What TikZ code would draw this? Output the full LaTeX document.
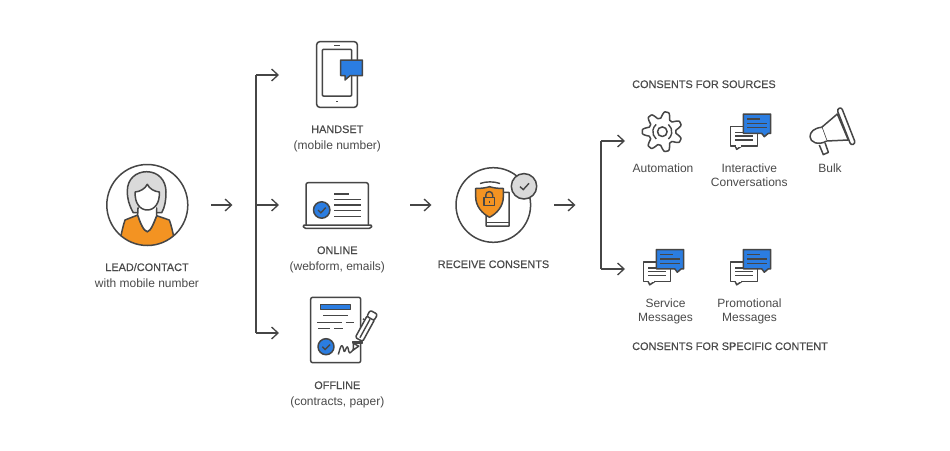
\documentclass[tikz,border=0pt]{standalone}
\usepackage{fontspec}
\setmainfont{Liberation Sans}
\newfontfamily\medfont[FakeBold=0.35]{Liberation Sans}
\usetikzlibrary{arrows.meta}
\definecolor{ink}{HTML}{464646}
\definecolor{txt}{HTML}{4A4A4A}
\definecolor{bluef}{HTML}{2B7DE1}
\definecolor{orangef}{HTML}{F39322}
\definecolor{greyf}{HTML}{DADADA}
\tikzset{
  icon/.style={draw=ink,line width=1.5pt,line join=round},
  thinl/.style={draw=ink,line width=1.4pt},
  conn/.style={draw=ink,line width=1.3pt},
  arr/.style={conn,-{Straight Barb[length=6.5pt,width=12pt,line width=1.3pt]}},
  ttl/.style={anchor=base,inner sep=0pt,text=txt,font=\medfont\fontsize{10.9}{14}\selectfont},
  sub/.style={anchor=base,inner sep=0pt,text=txt,font=\fontsize{12}{14}\selectfont},
  chat/.pic={
    \draw[icon,fill=white] (0,12.7) rectangle (27,32) ;
    \draw[icon,fill=white,line join=round] (4.5,32) -- (6,35.3) -- (11,32);
    \draw[draw=white,line width=1.6pt] (5.4,32) -- (10,32);
    \draw[thinl] (4.3,18.3) -- (12,18.3) (4.3,22) -- (22.6,22) (4.3,26) -- (22.6,26);
    \draw[icon,fill=bluef] (12.7,0) -- (40,0) -- (40,19.3) -- (37.6,19.3) -- (33.6,22.7) -- (31,19.3) -- (12.7,19.3) -- cycle;
    \draw[thinl] (16.6,5) -- (29.3,5) (16.6,9.3) -- (36,9.3) (16.6,13.7) -- (36,13.7);
  }
}
\begin{document}
\begin{tikzpicture}[x=1pt,y=-1pt]
\useasboundingbox (0,0) rectangle (950,450);
\fill[white] (0,0) rectangle (950,450);

% ---------- person
\begin{scope}
\clip (147.3,205) circle (40.5);
\draw[icon,fill=orangef] (137.7,215) -- (125,220) .. controls (123,226) and (122,231) .. (120.5,238) -- (120.5,252) -- (174,252) -- (174,238) .. controls (172.5,231) and (171.5,226) .. (169.3,220) -- (156.7,215.7)
  .. controls (154,222) and (151,231) .. (147.3,231.7) .. controls (143.5,231) and (140,222) .. (137.7,215) -- cycle;
\end{scope}
\draw[icon,fill=greyf] (133.3,212.7) .. controls (129,205) and (127.3,199) .. (127.3,191) .. controls (127.3,179) and (136,171.7) .. (146.7,171.7) .. controls (158,171.7) and (166,180) .. (166,192) .. controls (166,200) and (165,207) .. (161.7,212.7) -- (155,212.7) -- (140,212.7) -- cycle;
\draw[icon,fill=white] (137.9,208) -- (137.7,215) .. controls (140,222) and (143.5,231) .. (147.3,231.7) .. controls (151,231) and (154,222) .. (156.7,215.7) -- (156.5,208) -- cycle;
\draw[draw=white,line width=2pt] (139,208) -- (155.5,208);
\draw[icon,fill=white] (147.3,184.3) .. controls (145,189) and (140,191.5) .. (135.2,192) .. controls (134.5,203) and (140,210) .. (147.3,210) .. controls (154.5,210) and (160,203) .. (159.3,192) .. controls (154.5,191.5) and (149.5,189) .. (147.3,184.3) -- cycle;
\node[circle,draw=ink,line width=1.5pt,minimum size=81pt,inner sep=0pt] (person) at (147.3,205) {};
\node[ttl] (personT) at (147,271) {LEAD/CONTACT};
\node[sub] (personS) at (147,287) {with mobile number};

% ---------- handset
\draw[icon,rounded corners=3pt] (316.7,41.7) rectangle (357.3,107.3);
\draw[icon,rounded corners=1pt] (322.3,49.3) rectangle (351.7,96);
\draw[thinl] (334.3,45.7) -- (340,45.7);
\fill[ink] (336.3,101) rectangle (338.3,102.4);
\draw[icon,fill=bluef] (340.7,60) -- (362.3,60) -- (362.3,75.7) -- (350,75.7) -- (345,80) -- (345,75.7) -- (340.7,75.7) -- cycle;
\node[ttl] (handT) at (337.3,133) {HANDSET};
\node[sub] (handS) at (337.3,149) {(mobile number)};
\coordinate (hand) at (279,75);

% ---------- online
\draw[icon,rounded corners=2pt] (306,225) -- (306,182.7) -- (368.3,182.7) -- (368.3,225);
\draw[icon,rounded corners=1.5pt] (302.7,225) -- (372.3,225) -- (371,228.3) -- (304,228.3) -- cycle;
\draw[thinl] (334.3,194) -- (349.3,194) (334.3,199.7) -- (360.7,199.7) (334.3,205) -- (360.7,205) (334.3,210.7) -- (360.7,210.7) (334.3,216.3) -- (360.7,216.3);
\draw[icon,fill=bluef] (321.7,210) circle (8.2);
\draw[thinl] (318,210) -- (320.8,212.8) -- (325.8,207.6);
\node[ttl] (onT) at (337.3,254) {ONLINE};
\node[sub] (onS) at (337.3,270) {(webform, emails)};
\coordinate (online) at (279,205);

% ---------- offline
\draw[icon,rounded corners=2pt] (310.7,297.3) rectangle (360.7,362.7);
\draw[icon,fill=bluef] (320.7,304.7) rectangle (350.7,309.3);
\draw[thinl] (323.3,315.7) -- (348.3,315.7) (317.3,322.7) -- (342.3,322.7) (345.7,322.7) -- (354,322.7) (318.3,328.7) -- (330,328.7) (334.3,328.7) -- (343.3,328.7);
\draw[icon,fill=bluef] (326,346.7) circle (8);
\draw[thinl] (322.3,346.7) -- (325.2,349.5) -- (330,344.5);
\draw[thinl,line join=round] (338.3,354.5) .. controls (340,349) and (341,344) .. (342.5,346) .. controls (344,349) and (343.5,353) .. (345,351) .. controls (346.5,347) and (347.5,345.5) .. (348,348) .. controls (349,353) and (349.5,354) .. (351,352) .. controls (352,350) and (353,350) .. (354,349);
\begin{scope}[shift={(353.2,350)},x={(0.48pt,0.877pt)},y={(0.877pt,-0.48pt)}]
\draw[icon,fill=white] (0,0) -- (6,-3) -- (6,3) -- cycle;
\draw[icon,fill=white] (6,-3.8) rectangle (12,3.8);
\draw[icon,fill=white,rounded corners=1.5pt] (12,-4.2) -- (37,-4.2) -- (37,4.2) -- (12,4.2) -- cycle;
\draw[icon,fill=white,rounded corners=2pt] (36,-4.2) -- (43,-4.2) -- (43,4.2) -- (36,4.2) -- cycle;
\draw[thinl] (14,0) -- (35,0);
\draw[thinl] (32,-6.5) -- (32,-4.2);
\end{scope}
\node[ttl] (offT) at (337.3,389) {OFFLINE};
\node[sub] (offS) at (337.3,405) {(contracts, paper)};
\coordinate (offline) at (279,333);

% ---------- connectors left
\coordinate (a1s) at (211,205);
\coordinate (a1e) at (232.5,205);
\coordinate (bl) at (256,205);
\coordinate (blt) at (256,75);
\coordinate (blb) at (256,333);
\draw[arr] (a1s) -- (a1e);
\draw[conn] (blt) -- (blb);
\draw[arr] (blt) -- (hand);
\draw[arr] (bl) -- (online);
\draw[arr] (blb) -- (offline);

% ---------- receive
\node[circle,draw=ink,line width=1.5pt,minimum size=74.6pt,inner sep=0pt] (recv) at (493.3,205) {};
\draw[icon,fill=white] (486,226) -- (509,226) -- (509,192.3) -- (500,192.3) -- (486,216) -- cycle;
\draw[thinl] (486,222.3) -- (509,222.3);
\draw[icon,fill=orangef] (475.7,188.5) .. controls (481,188.5) and (486,187.8) .. (489.5,186.7) .. controls (493,187.8) and (498,188.5) .. (503.3,188.5) -- (503.3,197) .. controls (503.3,206) and (497,213.5) .. (489.5,217.3) .. controls (482,213.5) and (475.7,206) .. (475.7,197) -- cycle;
\draw[thinl] (480,183.5) .. controls (486,181.3) and (494,181.3) .. (500,183.5);
\draw[icon,fill=orangef] (484,197.3) rectangle (494.5,205.7);
\draw[thinl] (485.8,197.3) -- (485.8,195) .. controls (485.8,190.5) and (492.7,190.5) .. (492.7,195) -- (492.7,197.3);
\draw[thinl] (489.2,200.5) -- (489.2,203);
\node[circle,draw=ink,line width=1.5pt,fill=greyf,minimum size=25.4pt,inner sep=0pt] (chk) at (524,186.3) {};
\draw[thinl] (520,186.7) -- (523.3,189.6) -- (529,183.3);
\node[ttl] (recvT) at (493.5,268) {RECEIVE CONSENTS};

\coordinate (a2s) at (410,205);
\coordinate (a2e) at (431.5,205);
\draw[arr] (a2s) -- (a2e);
\coordinate (a3s) at (554,205);
\coordinate (a3e) at (575.5,205);
\draw[arr] (a3s) -- (a3e);
\coordinate (brt) at (601,141);
\coordinate (brb) at (601,269);
\coordinate (src) at (625,141);
\coordinate (cnt) at (625,269);
\draw[conn] (brt) -- (brb);
\draw[arr] (brt) -- (src);
\draw[arr] (brb) -- (cnt);

% ---------- sources
\node[ttl,anchor=base west] (srcT) at (632,88) {CONSENTS FOR SOURCES};
\draw[icon] plot[smooth cycle,samples=140,domain=0:357.43,variable=\t]
  ({662.3+(16.8+3.2*max(min(1.4*cos(7*(\t+77)),1),-1))*cos(\t)},{131.7+(16.8+3.2*max(min(1.4*cos(7*(\t+77)),1),-1))*sin(\t)});
\draw[icon] (662.3,131.7) circle (4.8);
\draw[thinl] (662.3,131.7) ++(130:9.5) arc (130:230:9.5);
\draw[thinl] (662.3,131.7) ++(-50:9.5) arc (-50:50:9.5);
\node[sub] (autoT) at (663,172) {Automation};

\pic at (730.7,114) {chat};
\node[sub] (intA) at (749.3,172) {Interactive};
\node[sub] (intB) at (749.3,186) {Conversations};

% bulk
\draw[icon,fill=white] (837.3,114) -- (821.7,127.3) -- (826.7,141) -- (848.3,140) -- cycle;
\draw[icon,fill=white] (819.3,145) -- (823.3,154.6) -- (828.4,152.4) -- (825,142.7);
\draw[icon,fill=white] (821.7,127.3) .. controls (814,128) and (810,132) .. (810,136.7) .. controls (810,142) and (818,146) .. (826.7,141);
\draw[icon,fill=white,rounded corners=2.4pt] (836.9,109.4) -- (841.4,107.2) -- (855.5,143.2) -- (851,145.4) -- cycle;
\node[sub] (bulkT) at (830,172) {Bulk};

% ---------- content
\pic at (643.7,249.5) {chat};
\node[sub] (servA) at (665.5,307) {Service};
\node[sub] (servB) at (665.5,321) {Messages};
\pic at (730.7,249.5) {chat};
\node[sub] (promA) at (749.5,307) {Promotional};
\node[sub] (promB) at (749.5,321) {Messages};
\node[ttl,anchor=base west] (cntT) at (632,350) {CONSENTS FOR SPECIFIC CONTENT};
\end{tikzpicture}
\end{document}
